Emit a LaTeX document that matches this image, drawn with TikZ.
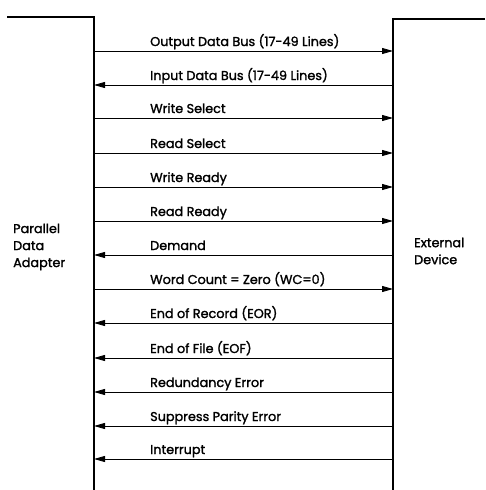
\documentclass[tikz,border=0pt]{standalone}
\usepackage{fontspec}
\setmainfont{Poppins}[RawFeature={embolden=1.5}]
\usetikzlibrary{arrows.meta}
\begin{document}
\begin{tikzpicture}[x=1pt,y=-1pt,
  bus/.style={line width=2.2pt},
  sig/.style={line width=0.8pt,-{Triangle[length=11pt,width=6pt]}},
  lbl/.style={anchor=base west,inner sep=0pt,font=\fontsize{12.8}{14}\selectfont},
  side/.style={align=left,anchor=west,inner sep=0pt,font=\fontsize{12.8}{17}\selectfont}]
\useasboundingbox (0,0) rectangle (485,490);
% blocks
\coordinate (LT0) at (7,17);
\coordinate (LT) at (94,17);
\coordinate (LB) at (94,490);
\coordinate (RT) at (393,19);
\coordinate (RT0) at (485,19);
\coordinate (RB) at (393,490);
\draw[bus] (LT0) -- (LT) -- (LB);
\draw[bus] (RT0) -- (RT) -- (RB);
\node[side] (pda) at (13,247) {Parallel\\Data\\Adapter};
\node[side] (ext) at (414,251) {External\\Device};
% signals
\foreach \i/\yy/\dir/\txt in {
  1/51/r/{Output Data Bus (17-49 Lines)},
  2/85/l/{Input Data Bus (17-49 Lines)},
  3/118/r/{Write Select},
  4/153/r/{Read Select},
  5/187/r/{Write Ready},
  6/221/r/{Read Ready},
  7/255/l/{Demand},
  8/289/r/{Word Count = Zero (WC=0)},
  9/323/l/{End of Record (EOR)},
  10/358/l/{End of File (EOF)},
  11/392/l/{Redundancy Error},
  12/426/l/{Suppress Parity Error},
  13/459/l/{Interrupt}}{
  \coordinate (a\i) at (94,\yy);
  \coordinate (b\i) at (393,\yy);
  \node[lbl] (t\i) at (150,\yy-5) {\txt};
  \if r\dir \draw[sig] (a\i) -- (b\i); \else \draw[sig] (b\i) -- (a\i); \fi
}
\end{tikzpicture}
\end{document}
